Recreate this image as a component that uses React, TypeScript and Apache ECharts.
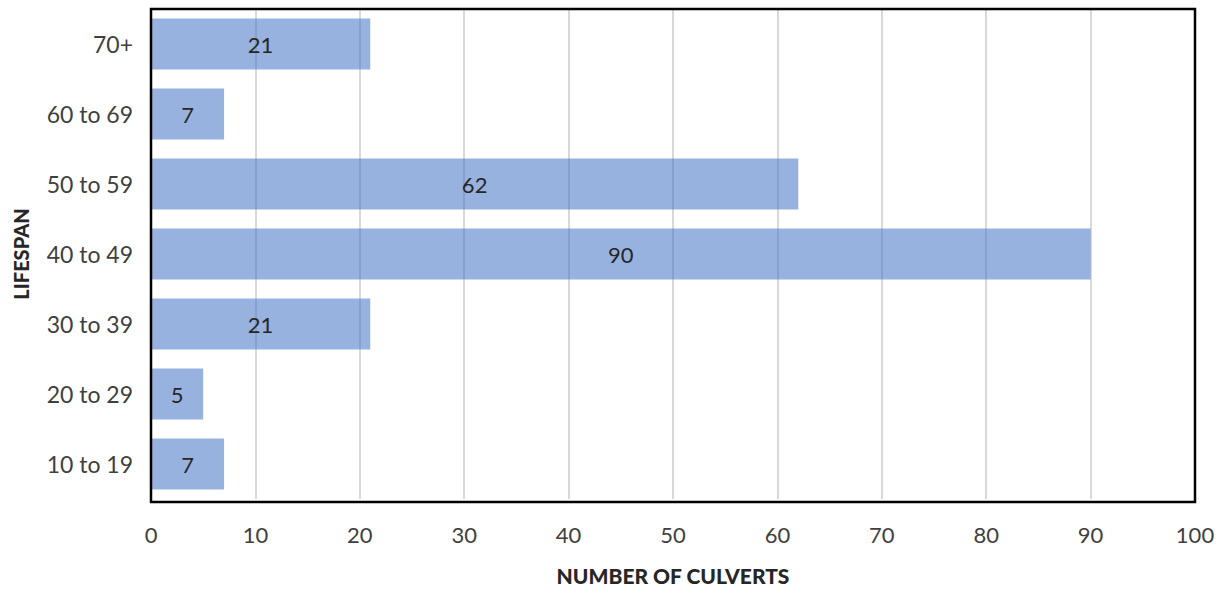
import React, { useEffect, useRef } from "react";
import * as echarts from "echarts";

const categories = ["10 to 19", "20 to 29", "30 to 39", "40 to 49", "50 to 59", "60 to 69", "70+"];
const culverts = [7, 5, 21, 90, 62, 7, 21];
const xTicks = [0, 10, 20, 30, 40, 50, 60, 70, 80, 90, 100];

const FONT = "Lato, 'Open Sans', sans-serif";
const GRID = { left: 151, right: 31, top: 9, bottom: 89 };
const W = 1226;
const H = 591;

export default function App() {
  const ref = useRef<HTMLDivElement>(null);
  useEffect(() => {
    if (!ref.current) return;
    const chart = echarts.init(ref.current, undefined, { renderer: "svg" });
    chart.setOption({
      animation: false,
      backgroundColor: "#ffffff",
      grid: { ...GRID, show: false },
      graphic: [
        {
          type: "rect",
          z: 100,
          silent: true,
          shape: {
            x: GRID.left,
            y: GRID.top,
            width: W - GRID.left - GRID.right,
            height: H - GRID.top - GRID.bottom,
          },
          style: { fill: "none", stroke: "#000000", lineWidth: 2.5 },
        },
      ],
      xAxis: {
        type: "value",
        min: xTicks[0],
        max: xTicks[xTicks.length - 1],
        interval: 10,
        name: "NUMBER OF CULVERTS",
        nameLocation: "middle",
        nameGap: 66,
        nameTextStyle: { fontFamily: FONT, fontWeight: 900, fontSize: 21, color: "#262626" },
        axisLine: { show: false },
        axisTick: { show: false },
        axisLabel: { fontFamily: FONT, fontSize: 22, color: "#404040", margin: 24 },
        splitLine: { show: true, lineStyle: { color: "#d9d9d9", width: 2 } },
      },
      yAxis: {
        type: "category",
        data: categories,
        name: "LIFESPAN",
        nameLocation: "middle",
        nameGap: 120,
        nameRotate: 90,
        nameTextStyle: { fontFamily: FONT, fontWeight: 900, fontSize: 20, color: "#262626" },
        axisLine: { show: false },
        axisTick: { show: false },
        axisLabel: { fontFamily: FONT, fontSize: 23, color: "#404040", margin: 18 },
        splitLine: { show: false },
      },
      series: [
        {
          type: "bar",
          data: culverts,
          barCategoryGap: "27%",
          itemStyle: { color: "rgba(68,114,196,0.55)" },
          label: {
            show: true,
            position: "inside",
            fontFamily: FONT,
            fontSize: 22,
            color: "#262626",
          },
        },
      ],
    });
    return () => chart.dispose();
  }, []);
  return (
    <div
      ref={ref}
      style={{ position: "absolute", left: 0, top: 0, width: W, height: H }}
    />
  );
}
